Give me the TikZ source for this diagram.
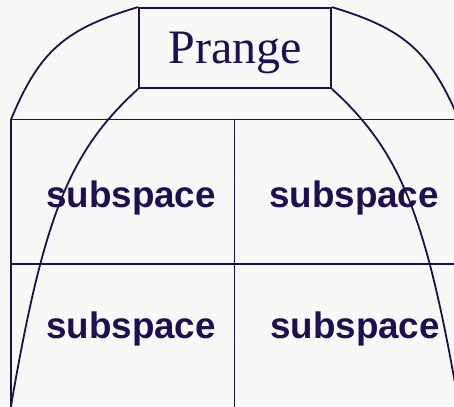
\documentclass[tikz,border=0pt]{standalone}
\usepackage{fontspec}
\newfontfamily\serifF{Liberation Serif}
\newfontfamily\sansF{Liberation Sans}
\definecolor{ink}{RGB}{32,14,82}
\definecolor{bg}{RGB}{247,249,247}
\begin{document}
\begin{tikzpicture}[x=1pt,y=-1pt,
  line/.style={draw=ink,line width=1.8pt},
  titlebox/.style={line,minimum width=192pt,minimum height=80pt,inner sep=0pt,
     font=\serifF\fontsize{48}{48}\selectfont,text=ink,text depth=0pt},
  sublabel/.style={anchor=base,inner sep=0pt,text=ink,
     font=\sansF\bfseries\fontsize{36.8}{36.8}\selectfont}]
\useasboundingbox (0,0) rectangle (454,406);
\fill[bg] (0,0) rectangle (454,406);
\clip (0,0) rectangle (454,406);
% grid
\coordinate (gtl) at (11,119.5);
\coordinate (gtr) at (459,119.5);
\coordinate (gbl) at (11,412);
\coordinate (gbr) at (459,412);
\coordinate (mt) at (234.5,119.5);
\coordinate (mb) at (234.5,412);
\coordinate (ml) at (11,264);
\coordinate (mr) at (459,264);
\draw[line] (gtl) rectangle (gbr);
\draw[line] (mt) -- (mb);
\draw[line] (ml) -- (mr);
% title box
\node[titlebox] (prange) at (235,48) {Prange};
% labels
\node[sublabel] (s1) at (131,207) {subspace};
\node[sublabel] (s2) at (354,207) {subspace};
\node[sublabel] (s3) at (131,338) {subspace};
\node[sublabel] (s4) at (355,338) {subspace};
% curves
\coordinate (ibl) at (11,406);
\coordinate (ibr) at (459,406);
\draw[line] (prange.south west) .. controls (70,151) and (44,214) .. (ibl);
\draw[line] (prange.south east) .. controls (400,151) and (426,214) .. (ibr);
\draw[line] (gtl) .. controls (39.5,50.8) and (65,28.8) .. (prange.north west);
\draw[line] (prange.north east) .. controls (404,28.8) and (429.5,50.8) .. (gtr);
\end{tikzpicture}
\end{document}
